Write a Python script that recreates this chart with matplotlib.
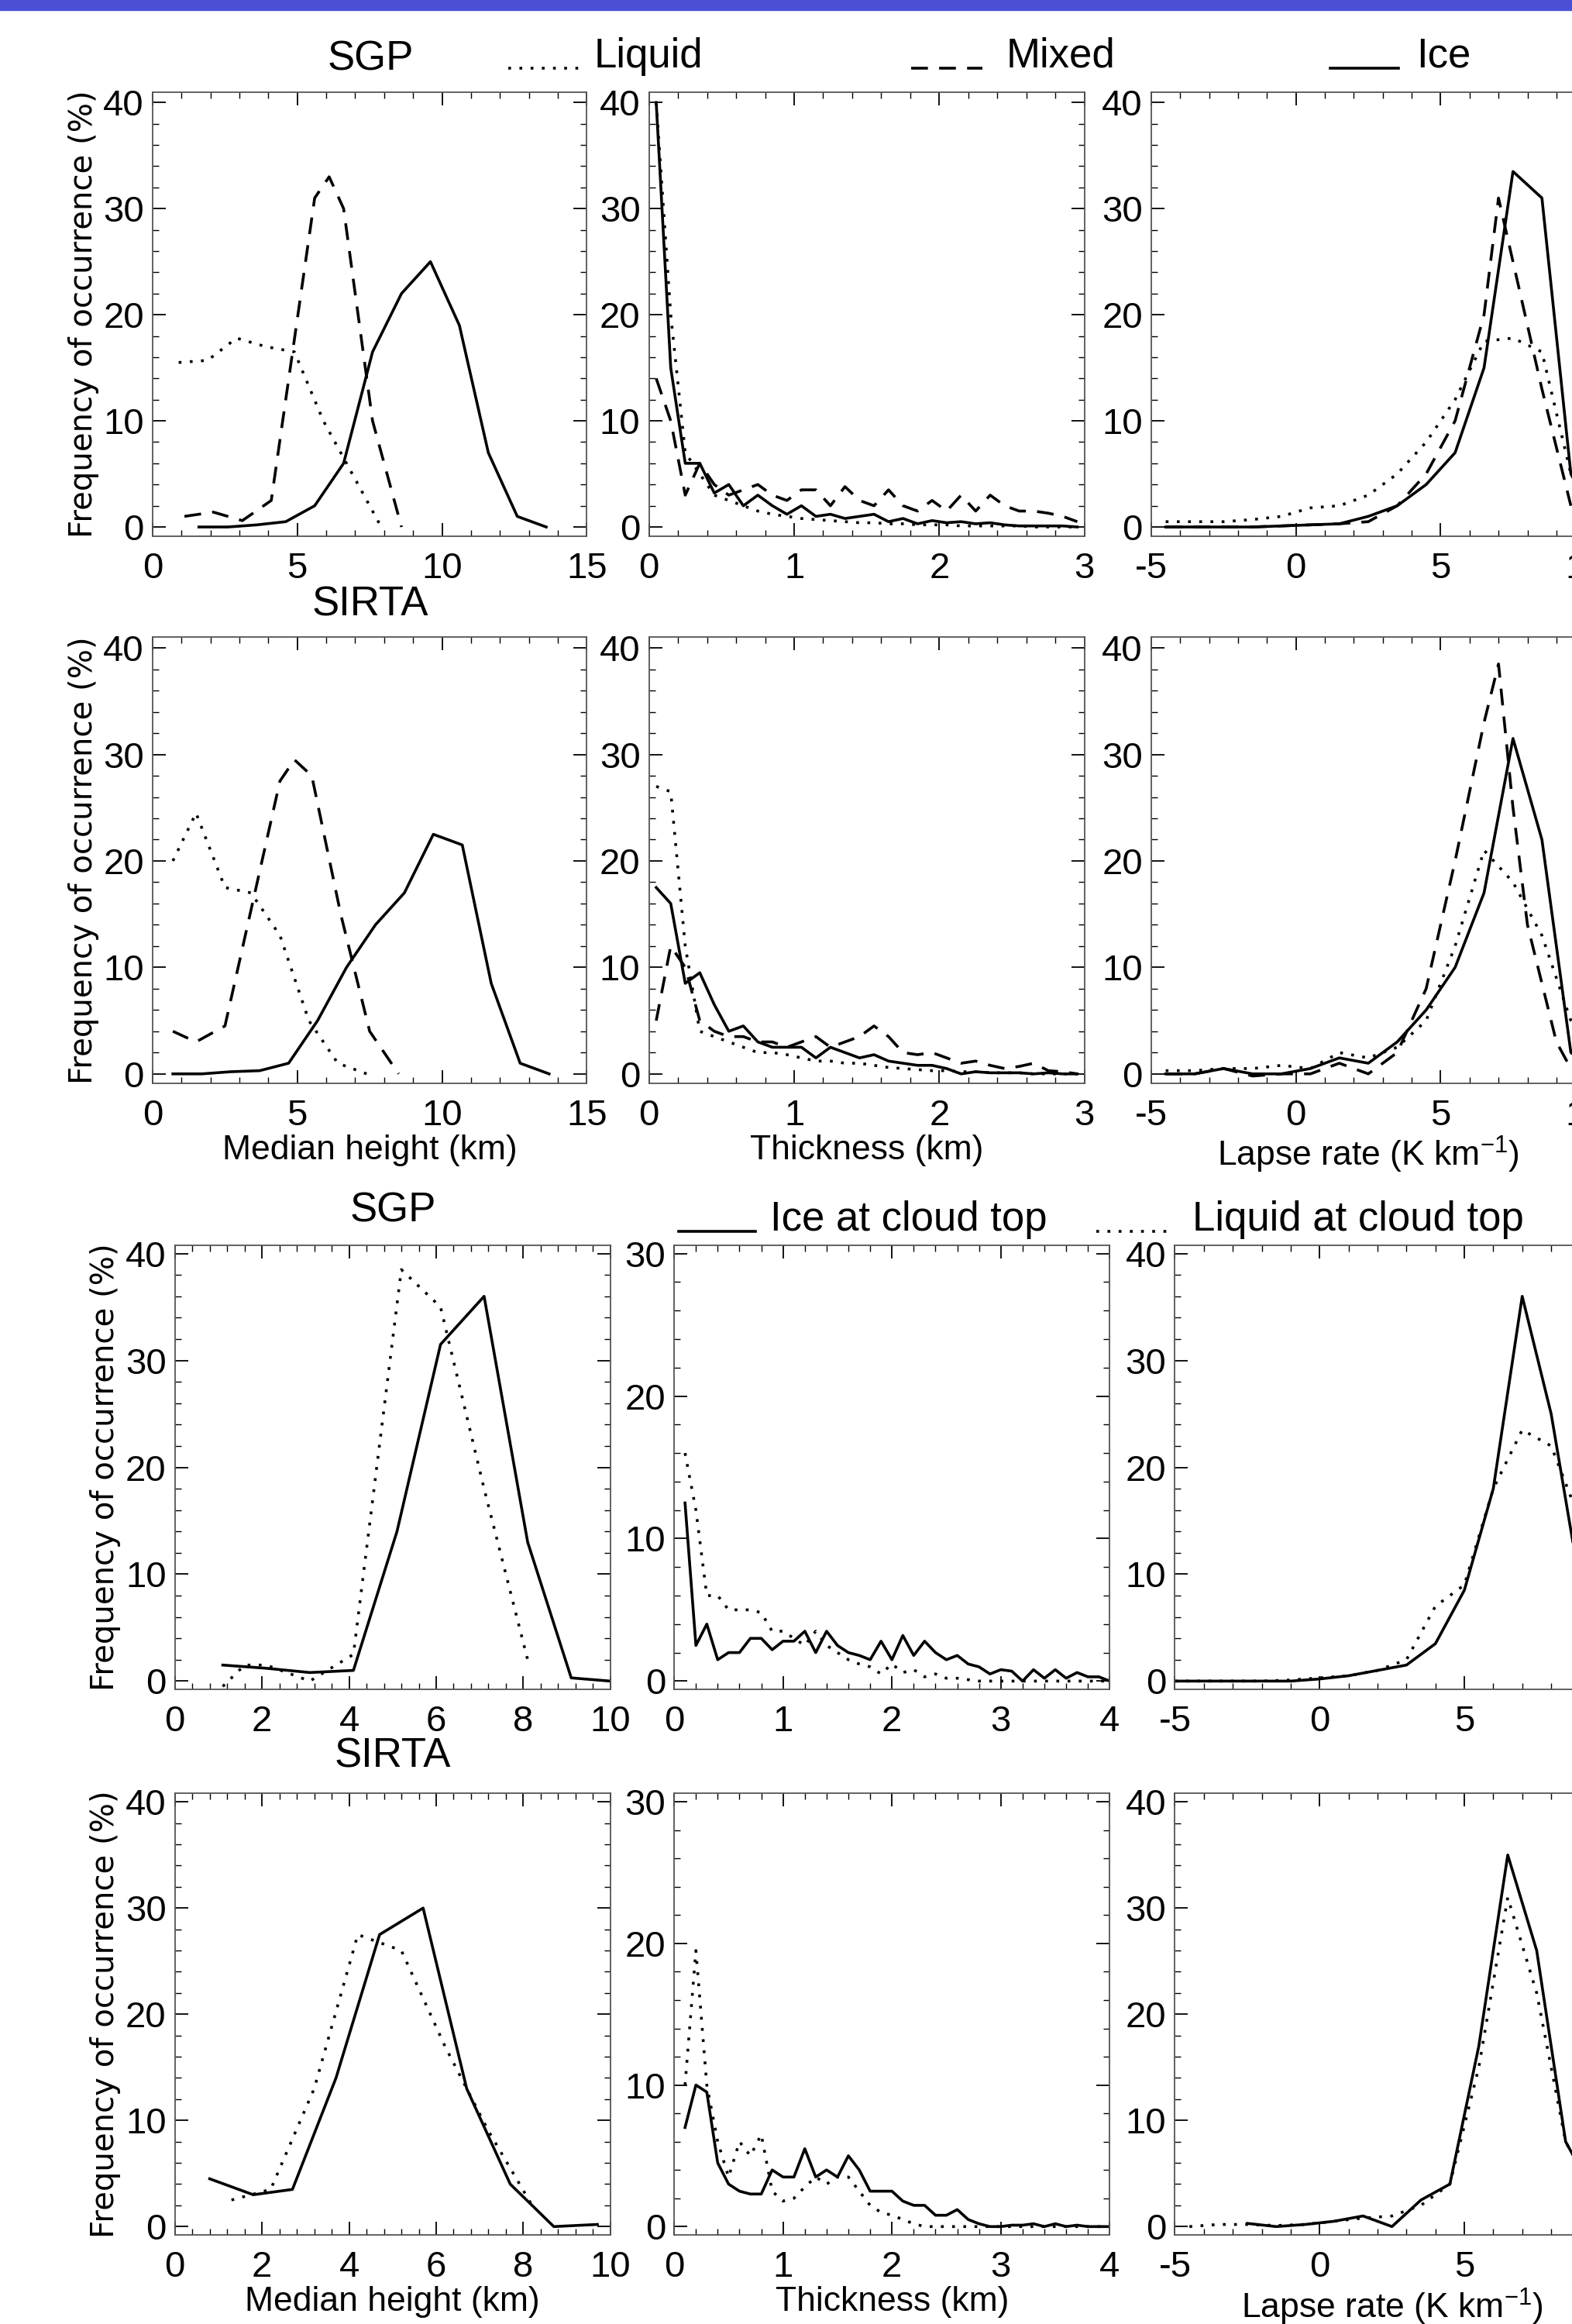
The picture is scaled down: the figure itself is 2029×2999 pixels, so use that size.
import matplotlib
matplotlib.use('Agg')
import matplotlib.pyplot as plt
from matplotlib.ticker import MultipleLocator, AutoMinorLocator
import numpy as np

plt.rcParams['font.family'] = ['Liberation Sans Narrow', 'Liberation Sans', 'DejaVu Sans']
plt.rcParams['axes.unicode_minus'] = False
plt.rcParams['mathtext.default'] = 'regular'

# ---- top block: Liquid / Mixed / Ice ----
sgp_h_liq_x = [0.9, 1.9, 2.9, 3.9, 4.9, 5.9, 6.9, 7.9]
sgp_h_liq_y = [15.5, 15.7, 17.8, 17.0, 16.5, 10.0, 5.0, 0.0]
sgp_h_mix_x = [1.1, 2.1, 3.1, 4.1, 5.6, 6.1, 6.6, 7.6, 8.6]
sgp_h_mix_y = [1.0, 1.4, 0.6, 2.5, 31.0, 33.0, 30.0, 10.0, 0.0]
sgp_h_ice_x = [1.6, 2.6, 3.6, 4.6, 5.6, 6.6, 7.6, 8.6, 9.6, 10.6, 11.6, 12.6, 13.6]
sgp_h_ice_y = [0.0, 0.0, 0.2, 0.5, 2.0, 6.0, 16.5, 22.0, 25.0, 19.0, 7.0, 1.0, 0.0]

sir_h_liq_x = [0.7, 1.5, 2.5, 3.4, 4.4, 5.4, 6.4, 7.4]
sir_h_liq_y = [20.0, 24.5, 17.5, 17.0, 13.0, 5.0, 1.0, 0.0]
sir_h_mix_x = [0.7, 1.5, 2.5, 4.4, 4.9, 5.5, 6.5, 7.5, 8.5]
sir_h_mix_y = [4.0, 3.0, 4.5, 27.5, 29.5, 28.0, 15.0, 4.0, 0.0]
sir_h_ice_x = [0.7, 1.7, 2.7, 3.7, 4.7, 5.7, 6.7, 7.7, 8.7, 9.7, 10.7, 11.7, 12.7, 13.7]
sir_h_ice_y = [0.0, 0.0, 0.2, 0.3, 1.0, 5.0, 10.0, 14.0, 17.0, 22.5, 21.5, 8.5, 1.0, 0.0]

thk_x = [0.05, 0.15, 0.25, 0.35, 0.45, 0.55, 0.65, 0.75, 0.85, 0.95,
         1.05, 1.15, 1.25, 1.35, 1.45, 1.55, 1.65, 1.75, 1.85, 1.95,
         2.05, 2.15, 2.25, 2.35, 2.45, 2.55, 2.65, 2.75, 2.85, 2.95]
sgp_t_liq = [40, 20, 7, 5, 3, 2.5, 2, 1.5, 1.2, 1.0, 0.8, 0.7, 0.6, 0.5, 0.4, 0.4, 0.3, 0.3, 0.2, 0.2,
             0.2, 0.1, 0.1, 0.1, 0.1, 0.1, 0.0, 0.0, 0.0, 0.0]
sgp_t_mix = [14, 10, 3, 6, 4, 3, 3.5, 4, 3, 2.5, 3.5, 3.5, 2, 3.8, 2.5, 2, 3.5, 2, 1.5, 2.5,
             1.5, 3, 1.5, 3, 2, 1.5, 1.5, 1.3, 1, 0.5]
sgp_t_ice = [40, 15, 6, 6, 3.2, 4, 2, 3, 2, 1.2, 2, 1, 1.2, 0.8, 1, 1.2, 0.5, 0.8, 0.3, 0.6,
             0.4, 0.5, 0.3, 0.4, 0.2, 0.1, 0.1, 0.1, 0.1, 0.0]
sir_t_liq = [27, 26.5, 12, 4, 3.5, 3, 2.5, 2, 2, 1.8, 1.5, 1.2, 1.2, 1, 1, 0.8, 0.6, 0.5, 0.4, 0.3,
             0.3, 0.2, 0.2, 0.1, 0.1, 0.1, 0.0, 0.0, 0.0, 0.0]
sir_t_mix = [5, 12, 10, 5, 4, 3.5, 3.5, 3, 3, 2.5, 3, 3.5, 2.5, 3, 3.5, 4.5, 3.5, 2, 1.8, 2,
             1.5, 1, 1.2, 0.8, 0.5, 0.7, 1, 0.3, 0.2, 0.0]
sir_t_ice = [17.5, 16, 8.5, 9.5, 6.5, 4, 4.5, 3, 2.5, 2.5, 2.5, 1.5, 2.5, 2, 1.5, 1.8, 1.2, 1, 0.8, 0.8,
             0.5, 0.0, 0.2, 0.1, 0.1, 0.1, 0.0, 0.1, 0.0, 0.0]

lap_x = [-4.5, -3.5, -2.5, -1.5, -0.5, 0.5, 1.5, 2.5, 3.5, 4.5, 5.5, 6.5, 7.5, 8.5, 9.5, 10.5]
sgp_l_liq = [0.5, 0.5, 0.5, 0.7, 1.0, 1.8, 2.0, 3.0, 5.0, 8.0, 12.0, 17.5, 17.8, 16.5, 5.0, 0.0]
sgp_l_mix_x = [-4.5, -3.5, -2.5, -1.5, -0.5, 0.5, 1.5, 2.5, 3.5, 4.5, 5.5, 6.5, 7.0, 7.5, 8.5, 9.5]
sgp_l_mix = [0.0, 0.0, 0.0, 0.0, 0.1, 0.2, 0.3, 0.5, 2.0, 5.0, 10.0, 20.0, 31.0, 25.0, 13.0, 2.0]
sgp_l_ice = [0.0, 0.0, 0.0, 0.0, 0.1, 0.2, 0.3, 1.0, 2.0, 4.0, 7.0, 15.0, 33.5, 31.0, 5.0, 0.0]
sir_l_liq = [0.3, 0.3, 0.5, 0.5, 0.8, 0.5, 2.0, 1.5, 2.5, 5.0, 12.0, 21.0, 18.0, 13.0, 5.0, 0.0]
sir_l_mix_x = [-4.5, -3.5, -2.5, -1.5, -0.5, 0.5, 1.5, 2.5, 3.5, 4.5, 5.5, 6.5, 7.0, 7.5, 8.0, 9.0, 9.5]
sir_l_mix = [0.0, 0.0, 0.5, -0.2, 0.0, 0.0, 1.0, 0.0, 2.0, 8.0, 20.0, 33.0, 38.5, 25.0, 14.0, 3.0, 0.5]
sir_l_ice = [0.0, 0.0, 0.5, 0.0, 0.0, 0.5, 1.5, 1.0, 3.0, 6.0, 10.0, 17.0, 31.5, 22.0, 2.0, 0.0]

# ---- bottom block: Ice / Liquid at cloud top ----
b_sgp_h_ice_x = [1.1, 2.1, 3.1, 4.1, 5.1, 6.1, 7.1, 8.1, 9.1, 10.0]
b_sgp_h_ice_y = [1.5, 1.2, 0.8, 1.0, 14.0, 31.5, 36.0, 13.0, 0.3, 0.0]
b_sgp_h_liq_x = [1.1, 1.6, 2.1, 3.1, 4.1, 5.2, 6.1, 7.1, 8.1]
b_sgp_h_liq_y = [-0.5, 1.5, 1.5, 0.0, 2.5, 38.5, 35.0, 18.0, 2.0]
b_sir_h_ice_x = [0.8, 1.8, 2.7, 3.7, 4.7, 5.7, 6.7, 7.7, 8.7, 9.7]
b_sir_h_ice_y = [4.5, 3.0, 3.5, 14.0, 27.5, 30.0, 13.0, 4.0, 0.0, 0.2]
b_sir_h_liq_x = [1.3, 2.2, 3.2, 4.2, 5.2, 6.2, 7.2, 8.2]
b_sir_h_liq_y = [2.5, 3.5, 13.0, 27.5, 26.0, 17.0, 9.0, 2.0]

b_thk_x = [0.1, 0.2, 0.3, 0.4, 0.5, 0.6, 0.7, 0.8, 0.9, 1.0, 1.1, 1.2, 1.3, 1.4, 1.5, 1.6, 1.7, 1.8, 1.9, 2.0,
           2.1, 2.2, 2.3, 2.4, 2.5, 2.6, 2.7, 2.8, 2.9, 3.0, 3.1, 3.2, 3.3, 3.4, 3.5, 3.6, 3.7, 3.8, 3.9, 4.0]
b_sgp_t_ice = [12.5, 2.5, 4, 1.5, 2, 2, 3, 3, 2.2, 2.8, 2.8, 3.5, 2, 3.5, 2.5, 2, 1.8, 1.5, 2.8, 1.5,
               3.2, 1.8, 2.8, 2, 1.5, 1.8, 1.2, 1, 0.5, 0.8, 0.7, 0, 0.8, 0.2, 0.8, 0.2, 0.6, 0.3, 0.3, 0]
b_sgp_t_liq = [16, 12, 6, 6, 5, 5, 5, 4.8, 3.5, 3.5, 3, 2.5, 3.5, 2.5, 2, 1.5, 1.2, 1, 0.5, 1.2,
               0.6, 0.8, 0.3, 0.5, 0.2, 0.2, 0.1, 0, 0, 0, 0, 0, 0, 0, 0, 0, 0, 0, 0, 0]
b_sir_t_ice = [7, 10, 9.5, 4.5, 3, 2.5, 2.3, 2.3, 4, 3.5, 3.5, 5.5, 3.5, 4, 3.5, 5, 4, 2.5, 2.5, 2.5,
               1.8, 1.5, 1.5, 0.8, 0.8, 1.2, 0.5, 0.2, 0, 0, 0.1, 0.1, 0.2, 0, 0.2, 0, 0.1, 0, 0, 0]
b_sir_t_liq = [10, 19.5, 10, 6, 3.5, 6, 5, 6.5, 2.5, 1.8, 2, 2.8, 3.5, 3, 3.5, 3.5, 2.5, 1.5, 1, 0.8,
               0.5, 0.2, 0, 0, 0, 0, 0, 0, 0, 0, 0, 0, 0, 0, 0, 0, 0, 0, 0, 0]

b_lap_x = [-5, -4, -3, -2, -1, 0, 1, 2, 3, 4, 5, 6, 7, 8, 9, 10]
b_sgp_l_ice = [0, 0, 0, 0, 0, 0.2, 0.5, 1.0, 1.5, 3.5, 8.5, 18.0, 36.0, 25.0, 9.0, 0.0]
b_sgp_l_liq = [0, 0, 0, 0, 0.1, 0.3, 0.5, 1.0, 2.0, 7.0, 9.0, 18.0, 23.5, 22.0, 15.0, 0.0]
b_sir_l_ice_x = [-2.5, -1.5, -0.5, 0.5, 1.5, 2.5, 3.5, 4.5, 5.5, 6.5, 7.5, 8.5, 9.5]
b_sir_l_ice = [0.3, 0.0, 0.2, 0.5, 1.0, 0.0, 2.5, 4.0, 17.0, 35.0, 26.0, 8.0, 3.0]
b_sir_l_liq_x = [-4.5, -3.5, -2.5, -1.5, -0.5, 0.5, 1.5, 2.5, 3.5, 4.5, 5.5, 6.5, 7.5, 8.5, 9.5]
b_sir_l_liq = [0.0, 0.2, 0.2, 0.1, 0.2, 0.5, 0.8, 1.0, 2.0, 4.0, 15.0, 31.0, 22.0, 8.0, 3.0]

W, H = 1061.0, 1568.0
fig = plt.figure(figsize=(20.29, 29.99), dpi=100)
fs = 34
lw = 2.6
DOT = (0, (1, 3))
DASH = (0, (6, 4))


def mkax(x0, x1, y0, y1, xlim, ylim, xmaj, ymaj):
    ax = fig.add_axes([x0 / W, 1 - y1 / H, (x1 - x0) / W, (y1 - y0) / H])
    ax.set_xlim(*xlim)
    ax.set_ylim(*ylim)
    ax.xaxis.set_major_locator(MultipleLocator(xmaj))
    ax.yaxis.set_major_locator(MultipleLocator(ymaj))
    ax.xaxis.set_minor_locator(AutoMinorLocator(5))
    ax.yaxis.set_minor_locator(AutoMinorLocator(5))
    ax.tick_params(which='both', direction='in', top=True, right=True, labelsize=fs, pad=8)
    ax.tick_params(axis='x', pad=14)
    ax.tick_params(which='major', length=12, width=1.3)
    ax.tick_params(which='minor', length=6, width=1.0)
    for s in ax.spines.values():
        s.set_linewidth(1.3)
        s.set_color('#555555')
    return ax


# blue bar at top
fig.patches.append(plt.Rectangle((0, 1 - 7 / H), 1, 7 / H, transform=fig.transFigure,
                                 color='#4a4fd6', zorder=10))

top_rows = [(62, 362), (430, 731)]
top_cols = [(103, 396, (0, 15), 5), (438, 732, (0, 3), 1), (777, 1070, (-5, 10), 5)]
top_data = [
    [(sgp_h_liq_x, sgp_h_liq_y), (sgp_h_mix_x, sgp_h_mix_y), (sgp_h_ice_x, sgp_h_ice_y)],
    [(thk_x, sgp_t_liq), (thk_x, sgp_t_mix), (thk_x, sgp_t_ice)],
    [(lap_x, sgp_l_liq), (sgp_l_mix_x, sgp_l_mix), (lap_x, sgp_l_ice)],
    [(sir_h_liq_x, sir_h_liq_y), (sir_h_mix_x, sir_h_mix_y), (sir_h_ice_x, sir_h_ice_y)],
    [(thk_x, sir_t_liq), (thk_x, sir_t_mix), (thk_x, sir_t_ice)],
    [(lap_x, sir_l_liq), (sir_l_mix_x, sir_l_mix), (lap_x, sir_l_ice)],
]
styles3 = [DOT, DASH, '-']
xlabels = ['Median height (km)', 'Thickness (km)', 'Lapse rate (K km$^{-1}$)']

for r, (y0, y1) in enumerate(top_rows):
    for c, (x0, x1, xl, xm) in enumerate(top_cols):
        ax = mkax(x0, x1, y0, y1, xl, (-0.9, 41), xm, 10)
        for (xs, ys), ls in zip(top_data[r * 3 + c], styles3):
            ax.plot(xs, ys, color='black', lw=lw, linestyle=ls)
        if c == 0:
            ax.set_ylabel('Frequency of occurrence (%)', fontsize=fs - 5, family='DejaVu Sans', labelpad=4)
        if r == 1:
            ax.set_xlabel(xlabels[c], fontsize=fs - 2, labelpad=2)

bot_rows = [(840, 1140), (1210, 1508)]
bot_cols = [(118, 412, (0, 10), 2, 40), (455, 749, (0, 4), 1, 30), (793, 1086, (-5, 10), 5, 40)]
bot_data = [
    [(b_sgp_h_ice_x, b_sgp_h_ice_y), (b_sgp_h_liq_x, b_sgp_h_liq_y)],
    [(b_thk_x, b_sgp_t_ice), (b_thk_x, b_sgp_t_liq)],
    [(b_lap_x, b_sgp_l_ice), (b_lap_x, b_sgp_l_liq)],
    [(b_sir_h_ice_x, b_sir_h_ice_y), (b_sir_h_liq_x, b_sir_h_liq_y)],
    [(b_thk_x, b_sir_t_ice), (b_thk_x, b_sir_t_liq)],
    [(b_sir_l_ice_x, b_sir_l_ice), (b_sir_l_liq_x, b_sir_l_liq)],
]
for r, (y0, y1) in enumerate(bot_rows):
    for c, (x0, x1, xl, xm, ytop) in enumerate(bot_cols):
        ylim = (-0.6, 30.6) if ytop == 30 else (-0.8, 40.8)
        ax = mkax(x0, x1, y0, y1, xl, ylim, xm, 10)
        for (xs, ys), ls in zip(bot_data[r * 3 + c], ['-', DOT]):
            ax.plot(xs, ys, color='black', lw=lw, linestyle=ls)
        if c == 0:
            ax.set_ylabel('Frequency of occurrence (%)', fontsize=fs - 5, family='DejaVu Sans', labelpad=4)
        if r == 1:
            ax.set_xlabel(xlabels[c], fontsize=fs - 2, labelpad=2)

# titles and legends
def ftext(x, y, s, **kw):
    fig.text(x / W, 1 - y / H, s, fontsize=fs + 4, va='center', **kw)

def fline(x0, x1, y, ls):
    fig.add_artist(plt.Line2D([x0 / W, x1 / W], [1 - y / H, 1 - y / H], transform=fig.transFigure,
                              color='black', lw=lw, linestyle=ls))

ftext(250, 40, 'SGP', ha='center')
ftext(250, 408, 'SIRTA', ha='center')
ftext(265, 817, 'SGP', ha='center')
ftext(265, 1185, 'SIRTA', ha='center')

fline(343, 396, 46, DOT)
ftext(401, 38, 'Liquid', ha='left')
fline(615, 663, 46, DASH)
ftext(679, 38, 'Mixed', ha='left')
fline(898, 944, 46, '-')
ftext(956, 38, 'Ice', ha='left')

fline(458, 510, 831, '-')
ftext(520, 823, 'Ice at cloud top', ha='left')
fline(740, 790, 831, DOT)
ftext(805, 823, 'Liquid at cloud top', ha='left')

fig.savefig('out.png', dpi=100)
